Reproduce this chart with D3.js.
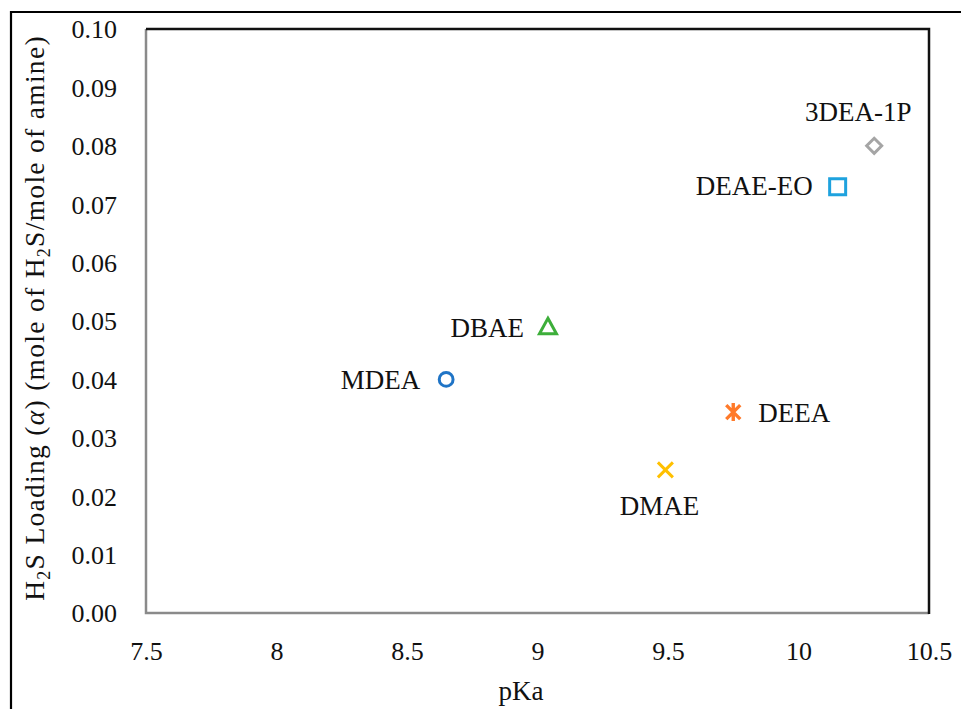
<!DOCTYPE html>
<html>
<head>
<meta charset="utf-8">
<script src="https://cdn.jsdelivr.net/npm/d3@7"></script>
<style>
  html, body { margin: 0; padding: 0; background: #fff; }
</style>
</head>
<body>
<svg id="chart" width="961" height="709"></svg>
<script>
// Amine H2S loading against pKa
const amines   = ["MDEA", "DBAE", "DMAE", "DEEA", "DEAE-EO", "3DEA-1P"];
const pKa      = [8.65, 9.04, 9.49, 9.75, 10.15, 10.29];
const loading  = [0.040, 0.049, 0.0245, 0.0344, 0.073, 0.080];
const xTicks   = [7.5, 8, 8.5, 9, 9.5, 10, 10.5];
const yTicks   = [0, 0.01, 0.02, 0.03, 0.04, 0.05, 0.06, 0.07, 0.08, 0.09, 0.10];

const markerShape = ["circle", "triangle", "cross", "star", "square", "diamond"];
const markerColor = ["#1f74c6", "#3dae3a", "#ffc000", "#ff7a2a", "#1ea2de", "#a5a5a5"];
// label placement relative to each marker: [dx, dy, anchor]
const labelPos = [[-26, 10, "end"], [-24, 10, "end"], [-6, 45, "middle"],
                  [25, 10, "start"], [-25, 8, "end"], [-16, -25, "middle"]];

const FONT = "'Liberation Serif', 'Times New Roman', serif";

const svg = d3.select("#chart");
const m = { left: 146, right: 929, top: 29, bottom: 613 };

const x = d3.scaleLinear().domain([7.5, 10.5]).range([m.left, m.right]);
const y = d3.scaleLinear().domain([0, 0.10]).range([m.bottom, m.top]);

// outer frame (top and left edges visible)
svg.append("path")
  .attr("d", "M11,709 L11,12 L961,12")
  .attr("fill", "none").attr("stroke", "#000").attr("stroke-width", 2.2);

// plot border: grey left/bottom, dark top/right
svg.append("path")
  .attr("d", `M${m.right},${m.bottom} L${m.left},${m.bottom} L${m.left},${m.top}`)
  .attr("fill", "none").attr("stroke", "#8a8a8a").attr("stroke-width", 2.5);
svg.append("path")
  .attr("d", `M${m.left},${m.top} L${m.right},${m.top} L${m.right},${m.bottom + 1}`)
  .attr("fill", "none").attr("stroke", "#111").attr("stroke-width", 2.5);

// axes (labels only)
const xAxis = d3.axisBottom(x).tickValues(xTicks).tickSize(0).tickPadding(0)
  .tickFormat(d => d3.format("")(d));
const gx = svg.append("g").attr("transform", `translate(0,${m.bottom})`).call(xAxis)
  .attr("font-family", FONT).attr("font-size", 26);
gx.select(".domain").remove();
gx.selectAll("text").attr("dy", null).attr("y", 47).attr("fill", "#111");

const yAxis = d3.axisLeft(y).tickValues(yTicks).tickSize(0).tickPadding(0)
  .tickFormat(d3.format(".2f"));
const gy = svg.append("g").attr("transform", `translate(${m.left},0)`).call(yAxis)
  .attr("font-family", FONT).attr("font-size", 26);
gy.select(".domain").remove();
gy.selectAll("text").attr("x", -29).attr("dy", "0.34em").attr("fill", "#111");

// axis titles
svg.append("text")
  .attr("x", 521).attr("y", 700).attr("text-anchor", "middle")
  .attr("font-family", FONT).attr("font-size", 27).attr("fill", "#111")
  .text("pKa");

const yt = svg.append("text")
  .attr("transform", "translate(44,318) rotate(-90)")
  .attr("text-anchor", "middle")
  .attr("font-family", FONT).attr("font-size", 27.5).attr("fill", "#111")
  .attr("letter-spacing", 1.3);
yt.append("tspan").text("H");
yt.append("tspan").attr("dy", 6).attr("font-size", 18).text("2");
yt.append("tspan").attr("dy", -6).text("S Loading (");
yt.append("tspan").attr("font-style", "italic").text("α");
yt.append("tspan").text(") (mole of H");
yt.append("tspan").attr("dy", 6).attr("font-size", 18).text("2");
yt.append("tspan").attr("dy", -6).text("S/mole of amine)");

// marker paths centred at 0,0
function shapePath(s) {
  switch (s) {
    case "circle":   return d3.symbol(d3.symbolCircle, 150)();
    case "triangle": return "M0,-8.5 L8.5,7 L-8.5,7 Z";
    case "square":   return "M-8,-8 H8 V8 H-8 Z";
    case "diamond":  return "M0,-7.5 L7.5,0 L0,7.5 L-7.5,0 Z";
    case "cross":    return "M-7.5,-7.5 L7.5,7.5 M-7.5,7.5 L7.5,-7.5";
    case "star":     return "M-7,-7 L7,7 M-7,7 L7,-7 M0,-9 L0,9";
  }
}

const pts = svg.append("g").selectAll("g.pt")
  .data(amines.map((name, i) => ({ name, px: pKa[i], py: loading[i], i })))
  .join("g")
  .attr("class", "pt")
  .attr("transform", d => `translate(${x(d.px)},${y(d.py)})`);

pts.append("path")
  .attr("d", d => shapePath(markerShape[d.i]))
  .attr("fill", "none")
  .attr("stroke", d => markerColor[d.i])
  .attr("stroke-width", d => markerShape[d.i] === "star" ? 3.4 : 3)
  .attr("stroke-linejoin", "miter");

pts.append("text")
  .attr("x", d => labelPos[d.i][0])
  .attr("y", d => labelPos[d.i][1])
  .attr("text-anchor", d => labelPos[d.i][2])
  .attr("font-family", FONT).attr("font-size", 27).attr("fill", "#111")
  .text(d => d.name);
</script>
</body>
</html>
